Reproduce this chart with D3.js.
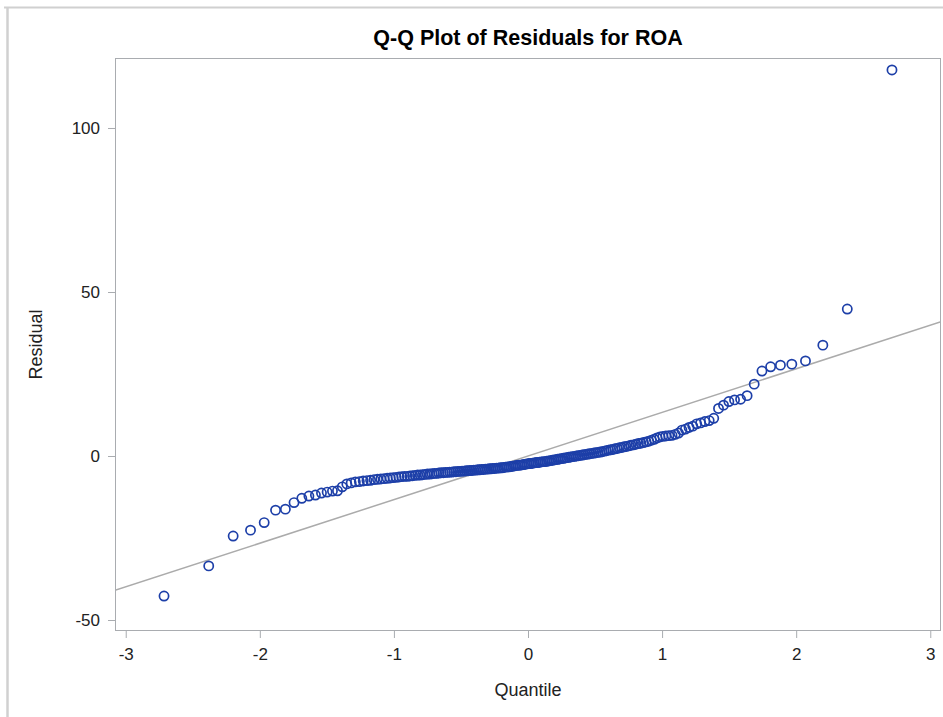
<!DOCTYPE html>
<html>
<head>
<meta charset="utf-8">
<script src="https://cdn.jsdelivr.net/npm/d3@7"></script>
<style>
  html, body { margin: 0; padding: 0; background: #fff; }
  svg { display: block; }
  text { font-family: Arial, "Liberation Sans", sans-serif; }
</style>
</head>
<body>
<svg id="chart" width="943" height="717"></svg>
<script>
// ---- data (sorted residuals) ----
const residuals = [
  -42.7, -33.5, -24.4, -22.6, -20.3, -16.5, -16.2, -14.2, -12.9, -12.2,
  -11.9, -11.3, -11.0, -10.7, -10.6, -9.4, -8.5, -8.2, -7.9, -7.8,
  -7.6, -7.5, -7.4, -7.2, -7.1, -7.0, -6.9, -6.8, -6.7, -6.6,
  -6.5, -6.4, -6.3, -6.2, -6.2, -6.1, -6.0, -5.9, -5.8, -5.8,
  -5.7, -5.6, -5.5, -5.5, -5.4, -5.3, -5.3, -5.2, -5.1, -5.1,
  -5.0, -5.0, -4.9, -4.9, -4.8, -4.8, -4.7, -4.7, -4.6, -4.6,
  -4.5, -4.5, -4.4, -4.4, -4.3, -4.3, -4.2, -4.2, -4.1, -4.1,
  -4.0, -4.0, -3.9, -3.9, -3.8, -3.8, -3.7, -3.7, -3.6, -3.6,
  -3.5, -3.4, -3.3, -3.3, -3.2, -3.1, -3.0, -2.9, -2.8, -2.8,
  -2.7, -2.6, -2.5, -2.4, -2.3, -2.3, -2.2, -2.1, -2.0, -2.0,
  -1.9, -1.8, -1.7, -1.7, -1.6, -1.5, -1.4, -1.3, -1.2, -1.1,
  -1.0, -0.9, -0.8, -0.7, -0.6, -0.5, -0.4, -0.3, -0.2, -0.1,
  0.0, 0.1, 0.2, 0.3, 0.4, 0.5, 0.6, 0.7, 0.8, 0.9,
  1.0, 1.1, 1.2, 1.3, 1.5, 1.6, 1.8, 1.9, 2.0, 2.2,
  2.3, 2.5, 2.6, 2.8, 2.9, 3.1, 3.3, 3.4, 3.6, 3.8,
  3.9, 4.1, 4.3, 4.5, 4.8, 5.1, 5.5, 5.8, 6.0, 6.1,
  6.2, 6.3, 6.6, 7.0, 7.9, 8.2, 8.7, 9.1, 9.8, 10.1,
  10.5, 10.8, 11.5, 14.5, 15.5, 16.6, 17.1, 17.3, 18.4, 21.9,
  25.9, 27.2, 27.7, 28.0, 29.0, 33.8, 44.8, 117.7
];
const xTicks = [-3, -2, -1, 0, 1, 2, 3];
const yTicks = [-50, 0, 50, 100];
const refLine = { intercept: 0, slope: 13.3 };
const titleText = "Q-Q Plot of Residuals for ROA";
const xLabel = "Quantile";
const yLabel = "Residual";

// ---- inverse normal CDF (Acklam) for the theoretical quantiles ----
function qnorm(p) {
  const a = [-39.69683028665376, 220.9460984245205, -275.9285104469687, 138.3577518672690, -30.66479806614716, 2.506628277459239];
  const b = [-54.47609879822406, 161.5858368580409, -155.6989798598866, 66.80131188771972, -13.28068155288572];
  const c = [-0.007784894002430293, -0.3223964580411365, -2.400758277161838, -2.549732539343734, 4.374664141464968, 2.938163982698783];
  const d = [0.007784695709041462, 0.3224671290700398, 2.445134137142996, 3.754408661907416];
  const pl = 0.02425, ph = 1 - pl;
  let q, r;
  if (p < pl) {
    q = Math.sqrt(-2 * Math.log(p));
    return (((((c[0]*q+c[1])*q+c[2])*q+c[3])*q+c[4])*q+c[5]) / ((((d[0]*q+d[1])*q+d[2])*q+d[3])*q+1);
  } else if (p <= ph) {
    q = p - 0.5; r = q * q;
    return (((((a[0]*r+a[1])*r+a[2])*r+a[3])*r+a[4])*r+a[5])*q / (((((b[0]*r+b[1])*r+b[2])*r+b[3])*r+b[4])*r+1);
  } else {
    q = Math.sqrt(-2 * Math.log(1 - p));
    return -(((((c[0]*q+c[1])*q+c[2])*q+c[3])*q+c[4])*q+c[5]) / ((((d[0]*q+d[1])*q+d[2])*q+d[3])*q+1);
  }
}
const n = residuals.length;
const points = residuals.map((r, i) => ({ q: qnorm((i + 1 - 0.375) / (n + 0.25)), r }));

// ---- layout ----
const svg = d3.select("#chart");
const L = 115, R = 941, T = 58, B = 631;
const x = d3.scaleLinear().domain([-3.08, 3.08]).range([L, R]);
const y = d3.scaleLinear().domain([-53.35, 121.34]).range([B, T]);
const frameColor = "#a9acb0";
const fmt = d => String(d);   // plain hyphen-minus like the reference

// outer page border
svg.append("line").attr("x1", 4).attr("x2", 943).attr("y1", 7.5).attr("y2", 7.5)
  .attr("stroke", "#d0d0d0").attr("stroke-width", 2);
svg.append("line").attr("x1", 7.5).attr("x2", 7.5).attr("y1", 7).attr("y2", 717)
  .attr("stroke", "#d0d0d0").attr("stroke-width", 2.5);

// title
svg.append("text").attr("x", (L + R) / 2).attr("y", 45)
  .attr("text-anchor", "middle").attr("font-size", 21.5).attr("font-weight", "bold")
  .attr("fill", "#000").text(titleText);

// clip
svg.append("clipPath").attr("id", "clip").append("rect")
  .attr("x", L).attr("y", T).attr("width", R - L).attr("height", B - T);

// axes
const xAxis = svg.append("g").attr("transform", `translate(0,${B})`)
  .call(d3.axisBottom(x).tickValues(xTicks).tickSize(7).tickPadding(6).tickFormat(fmt));
const yAxis = svg.append("g").attr("transform", `translate(${L},0)`)
  .call(d3.axisLeft(y).tickValues(yTicks).tickSize(7).tickPadding(8).tickFormat(fmt));
[xAxis, yAxis].forEach(g => {
  g.select(".domain").remove();
  g.selectAll(".tick line").attr("stroke", frameColor).attr("stroke-width", 1);
  g.selectAll(".tick text").attr("font-size", 17).attr("fill", "#222")
    .attr("font-family", "Arial, 'Liberation Sans', sans-serif");
});
xAxis.selectAll(".tick text").attr("dy", "0.95em");

// axis labels
svg.append("text").attr("x", (L + R) / 2).attr("y", 696)
  .attr("text-anchor", "middle").attr("font-size", 18).attr("fill", "#222").text(xLabel);
svg.append("text").attr("transform", `translate(42,${(T + B) / 2}) rotate(-90)`)
  .attr("text-anchor", "middle").attr("font-size", 18).attr("fill", "#222").text(yLabel);

// reference line
const xd = x.domain();
svg.append("line").attr("clip-path", "url(#clip)")
  .attr("x1", x(xd[0])).attr("y1", y(refLine.intercept + refLine.slope * xd[0]))
  .attr("x2", x(xd[1])).attr("y2", y(refLine.intercept + refLine.slope * xd[1]))
  .attr("stroke", "#ababab").attr("stroke-width", 1.5);

// points
svg.append("g").attr("clip-path", "url(#clip)")
  .selectAll("circle").data(points).join("circle")
  .attr("cx", d => x(d.q)).attr("cy", d => y(d.r)).attr("r", 4.6)
  .attr("fill", "none").attr("stroke", "#1d3fa8").attr("stroke-width", 1.7);

// frame
svg.append("rect").attr("x", L + 0.5).attr("y", T + 0.5)
  .attr("width", R - L - 1).attr("height", B - T - 1)
  .attr("fill", "none").attr("stroke", frameColor).attr("stroke-width", 1);
</script>
</body>
</html>
